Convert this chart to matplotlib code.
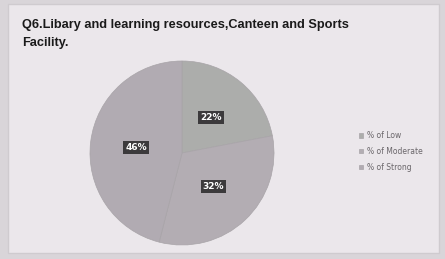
import matplotlib
matplotlib.use("Agg")
import matplotlib.pyplot as plt
from matplotlib.patches import Rectangle

title = "Q6.Libary and learning resources,Canteen and Sports\nFacility."
categories = ["% of Low", "% of Moderate", "% of Strong"]
values = [22, 32, 46]
colors = ["#acadab", "#b3adb3", "#b1abb2"]

W, H = 445, 259
fig = plt.figure(figsize=(W/100, H/100), dpi=100)
fig.patch.set_facecolor("#d9d5d9")
fig.patches.append(Rectangle((8/W, 6/H), (W-14)/W, (H-10)/H, transform=fig.transFigure,
                             facecolor="#ebe7eb", edgecolor="#cfcbcf", lw=1, zorder=-5))

cx, cy, r = 182, 153, 92
ax = fig.add_axes([(cx-r)/W, (H-cy-r)/H, 2*r/W, 2*r/H])
ax.set_zorder(2)
wedges, texts, autotexts = ax.pie(values, colors=colors, startangle=90, counterclock=False,
                                  autopct=lambda p: f"{p:.0f}%", pctdistance=0.5,
                                  wedgeprops=dict(edgecolor="#a8a4a8", linewidth=0.5))
for t in autotexts:
    t.set_color("white")
    t.set_fontsize(6.5)
    t.set_fontweight("bold")
    t.set_bbox(dict(facecolor="#3c3a3c", edgecolor="none", pad=1.5))
ax.set_xlim(-1, 1)
ax.set_ylim(-1, 1)
ax.set_aspect("equal")
ax.axis("off")

fig.text(22/W, 1-19/H, title, ha="left", va="top", fontsize=9.2, fontweight="bold",
         family="Liberation Sans", color="#1a1a1a", linespacing=1.7)

leg = fig.legend(wedges, categories, loc="upper left", bbox_to_anchor=(352/W, 1-124/H),
                 frameon=False, fontsize=5.5, handlelength=0.6, handleheight=0.6,
                 labelspacing=0.9, handletextpad=0.5)
for t in leg.get_texts():
    t.set_color("#6a666a")

fig.savefig("out.png", dpi=100, facecolor=fig.get_facecolor())
